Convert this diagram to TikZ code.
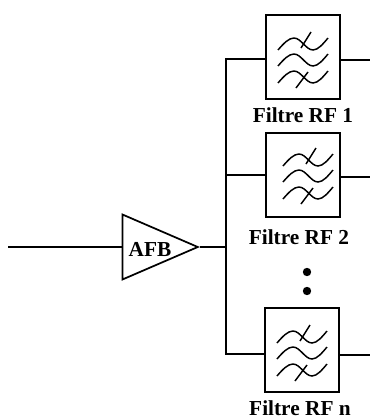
\documentclass[tikz,border=0pt]{standalone}
\usepackage{fontspec}
\setmainfont{Liberation Serif}
\usepackage{tikz}
\usetikzlibrary{positioning, shapes.geometric}

\begin{document}
\begin{tikzpicture}[
    x=0.75pt, y=-0.75pt,
    wire/.style={draw, line width=1.25pt},
    filterbox/.style={rectangle, draw, line width=1.4pt, inner sep=0pt,
                minimum width=55.5pt, minimum height=63pt},
    amp/.style={isosceles triangle, draw, line width=1.3pt, inner sep=0pt,
                isosceles triangle apex angle=46,
                isosceles triangle stretches,
                minimum width=48.75pt, minimum height=56.5pt},
    rflabel/.style={font=\bfseries\fontsize{16pt}{18pt}\selectfont},
    dotmark/.style={circle, fill, inner sep=0pt, minimum size=6.3pt},
    wave/.style={line width=1.1pt},
    filtersym/.pic={
      \foreach \yy in {-13,3,20} {
        \draw[wave, shift={(0,\yy)}] (-25,6) .. controls (-19,-1) and (-14,-6) .. (-9,-6)
          .. controls (-2,-6) and (3,6) .. (10,6) .. controls (15,6) and (20,0) .. (25,-6);
      }
      \draw[wave] (-2,-9) -- (8,-25);
      \draw[wave] (-7,31) -- (5,15);
    }
]
  \useasboundingbox (0,0) rectangle (370,418);

  % input amplifier
  \coordinate (in) at (8,247);
  \node[amp, anchor=apex] (afb) at (200,247) {};
  \node[rflabel] (afblabel) at (150,249) {AFB};

  % filter bank
  \node[filterbox] (f1) at (303,57) {};
  \node[filterbox] (f2) at (303,175) {};
  \node[filterbox] (fn) at (302,350) {};
  \pic at (f1) {filtersym};
  \pic[shift={(5,-2)}] at (f2) {filtersym};
  \pic at (fn) {filtersym};
  \node[rflabel] (l1) at (303,115.5) {Filtre RF 1};
  \node[rflabel] (l2) at (299,237) {Filtre RF 2};
  \node[rflabel] (ln) at (300,408) {Filtre RF n};

  % dots
  \node[dotmark] (d1) at (307,272) {};
  \node[dotmark] (d2) at (307,291) {};

  % wiring
  \coordinate (bus0) at (226,247);
  \coordinate (bus1) at (226,59);
  \coordinate (bus2) at (226,175);
  \coordinate (busn) at (226,354);
  \coordinate (out1) at (370,60);
  \coordinate (out2) at (370,177);
  \coordinate (outn) at (370,355);

  \draw[wire] (in) -- (afb.west |- in);
  \draw[wire] (afb.apex) -- (bus0);
  \draw[wire] (f1.west |- bus1) -- (bus1) -- (busn) -- (fn.west |- busn);
  \draw[wire] (bus2) -- (f2.west |- bus2);
  \draw[wire] (f1.east |- out1) -- (out1);
  \draw[wire] (f2.east |- out2) -- (out2);
  \draw[wire] (fn.east |- outn) -- (outn);
\end{tikzpicture}
\end{document}
